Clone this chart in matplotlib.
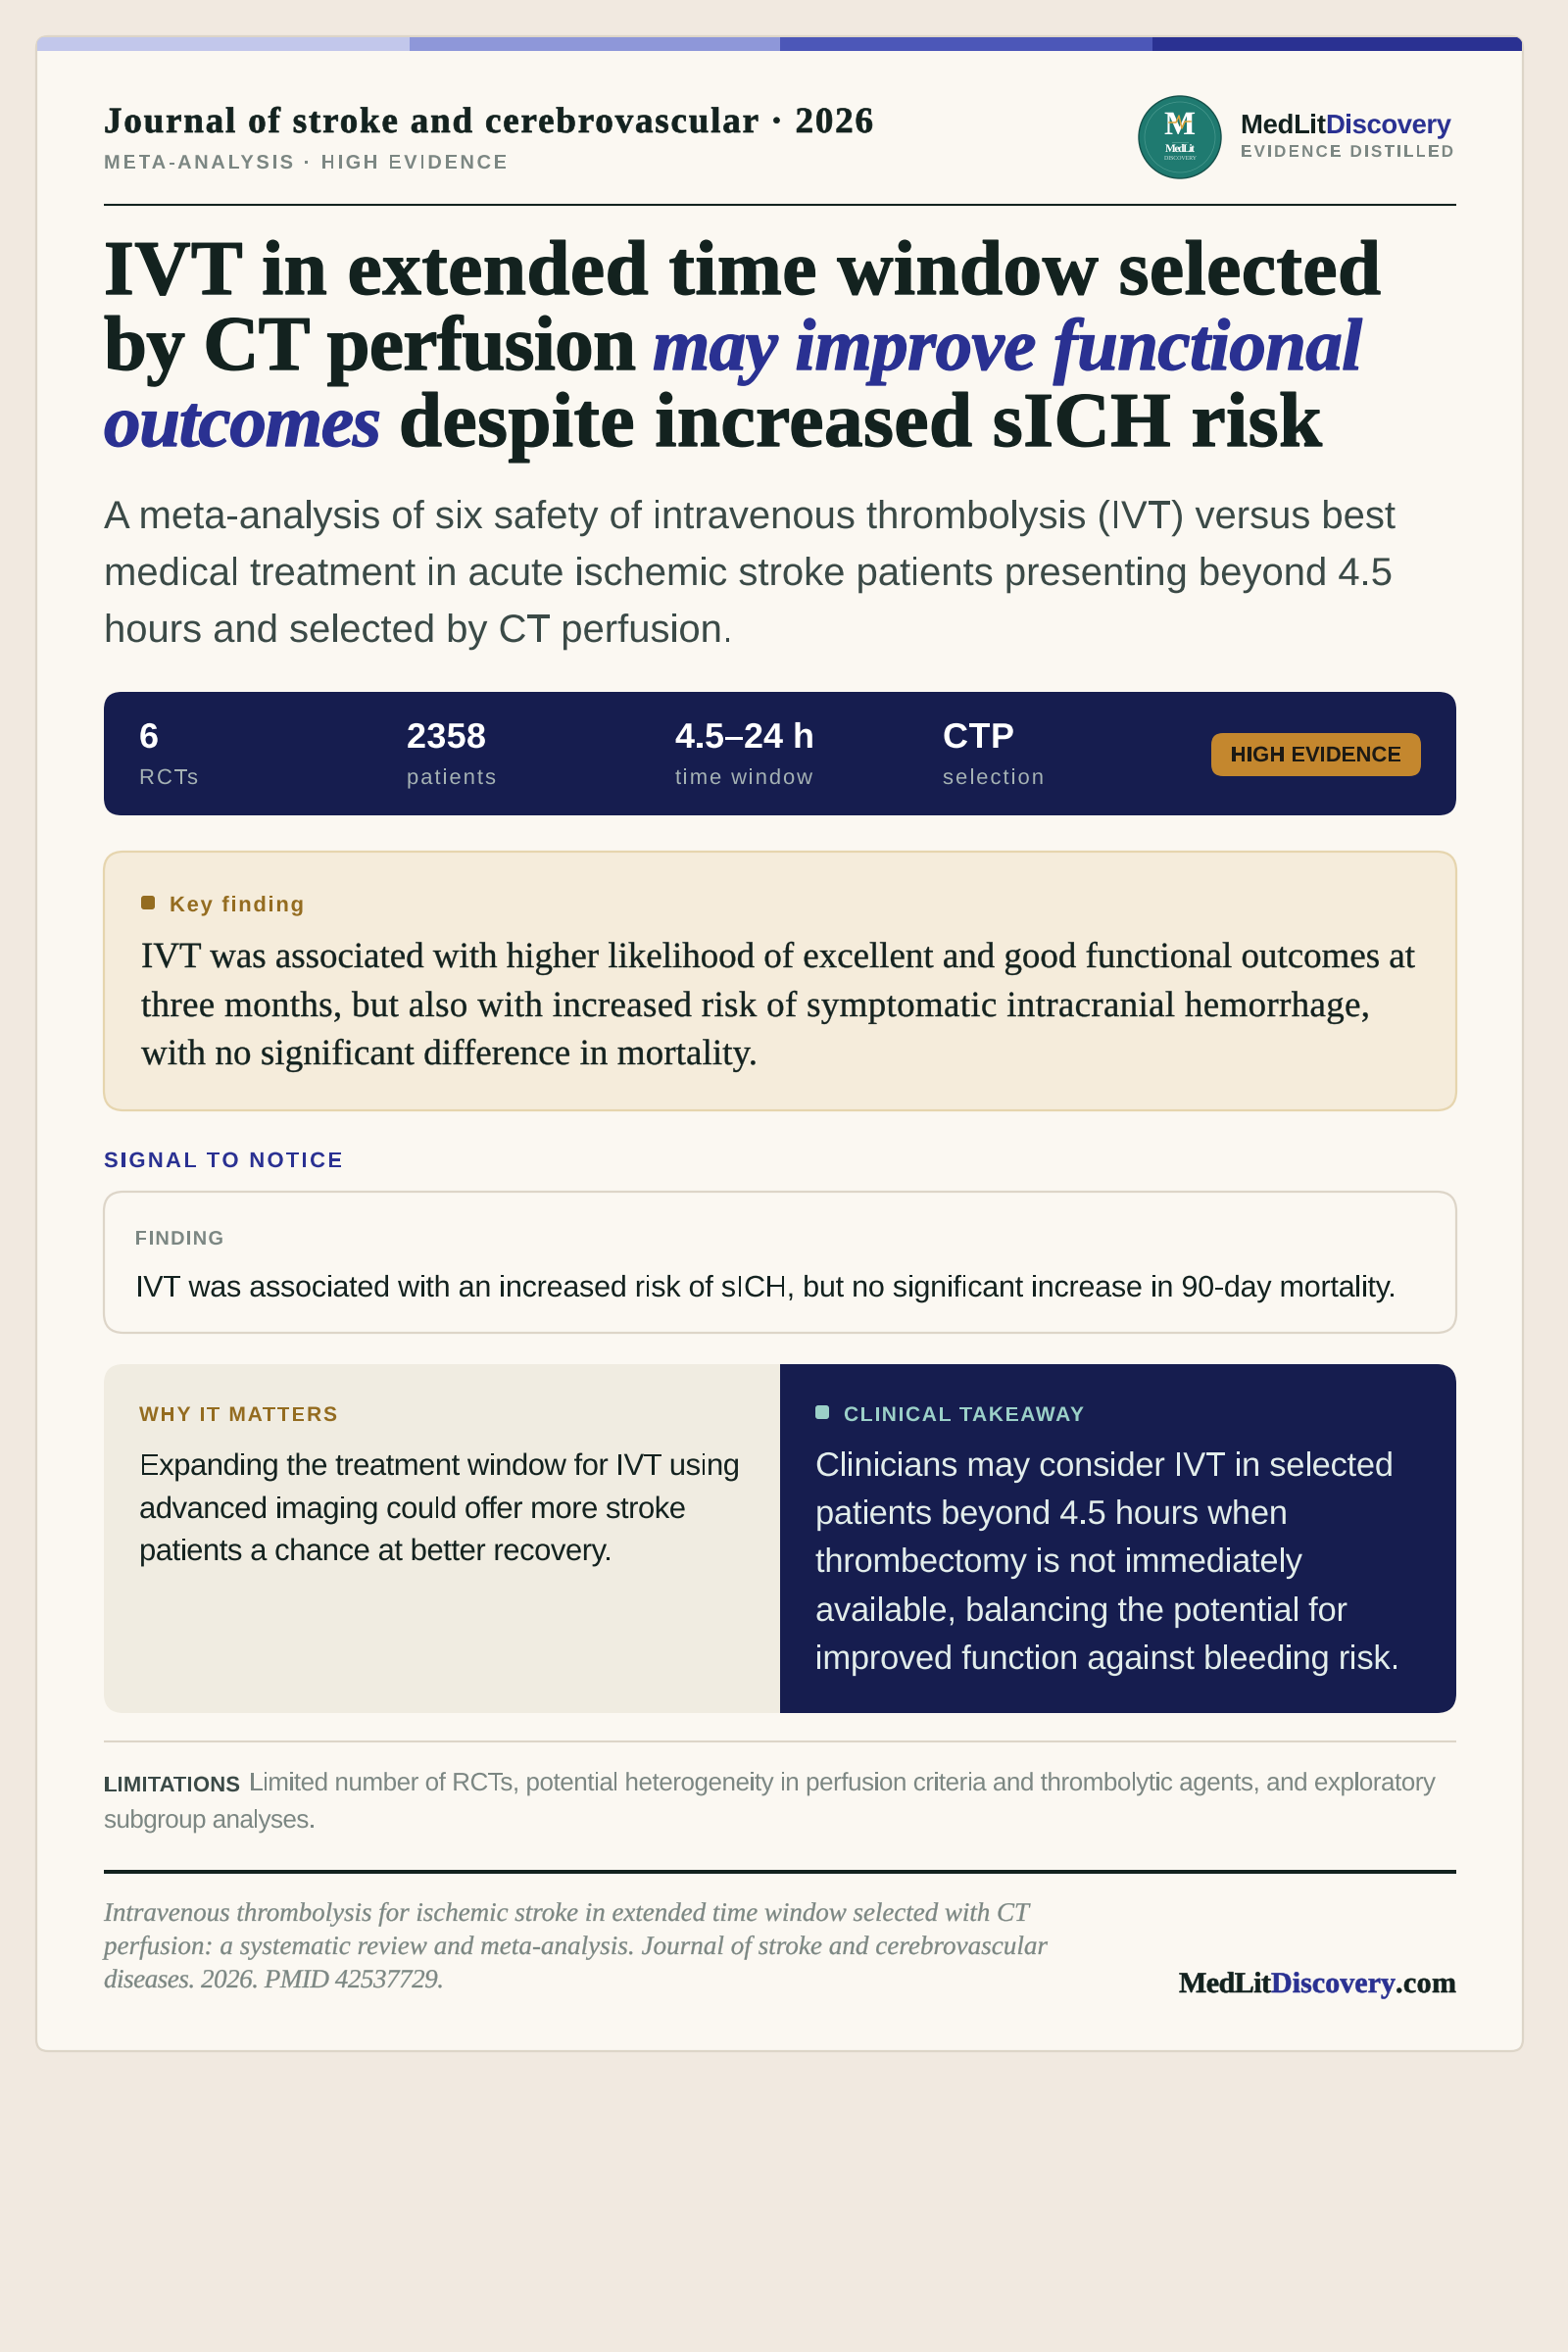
import matplotlib
matplotlib.use("Agg")
import matplotlib.pyplot as plt
from matplotlib import _text_helpers
from matplotlib.colors import to_rgba
from matplotlib.ft2font import LoadFlags
from matplotlib.patches import Circle, FancyBboxPatch, Rectangle
from matplotlib.path import Path
from matplotlib.text import Text
from matplotlib.textpath import TextToPath
from matplotlib.transforms import Affine2D

# ---- content ----
journal_line = "Journal of stroke and cerebrovascular · 2026"
kicker = "META-ANALYSIS · HIGH EVIDENCE"
brand_dark = "MedLit"
brand_blue = "Discovery"
brand_tag = "EVIDENCE DISTILLED"
title_parts = ["IVT in extended time window selected", "by CT perfusion", "may improve functional",
               "outcomes", "despite increased sICH risk"]
intro_lines = ["A meta-analysis of six safety of intravenous thrombolysis (IVT) versus best",
               "medical treatment in acute ischemic stroke patients presenting beyond 4.5",
               "hours and selected by CT perfusion."]
stat_values = ["6", "2358", "4.5–24 h", "CTP"]
stat_labels = ["RCTs", "patients", "time window", "selection"]
badge_text = "HIGH EVIDENCE"
key_label = "Key finding"
key_lines = ["IVT was associated with higher likelihood of excellent and good functional outcomes at",
             "three months, but also with increased risk of symptomatic intracranial hemorrhage,",
             "with no significant difference in mortality."]
signal_label = "SIGNAL TO NOTICE"
finding_label = "FINDING"
finding_text = "IVT was associated with an increased risk of sICH, but no significant increase in 90-day mortality."
why_label = "WHY IT MATTERS"
why_lines = ["Expanding the treatment window for IVT using",
             "advanced imaging could offer more stroke",
             "patients a chance at better recovery."]
take_label = "CLINICAL TAKEAWAY"
take_lines = ["Clinicians may consider IVT in selected",
              "patients beyond 4.5 hours when",
              "thrombectomy is not immediately",
              "available, balancing the potential for",
              "improved function against bleeding risk."]
lim_label = "LIMITATIONS"
lim_lines = ["Limited number of RCTs, potential heterogeneity in perfusion criteria and thrombolytic agents, and exploratory",
             "subgroup analyses."]
cite_lines = ["Intravenous thrombolysis for ischemic stroke in extended time window selected with CT",
              "perfusion: a systematic review and meta-analysis. Journal of stroke and cerebrovascular",
              "diseases. 2026. PMID 42537729."]
site_parts = ["MedLit", "Discovery", ".com"]

# ---- palette ----
PAGE, CARD, EDGE = "#F1E9E0", "#FBF8F2", "#DDD5C8"
INK, SLATE, GREY = "#13221F", "#3B4A47", "#7C8783"
BLUE, NAVY, GOLD = "#2A3192", "#161D4F", "#946C20"
STRIPES = ["#C2C7EB", "#8E97D9", "#4C57B8", "#2A3192"]

SANS, SERIF = "Liberation Sans", "Liberation Serif"
DPI = 100
plt.rcParams["text.hinting"] = "no_hinting"

t2p = TextToPath()


class FitText(Text):
    """One real text string, set with the letter spacing that makes it end at x_end."""

    def __init__(self, x, y, s, x_end, embolden=0.0, **kw):
        super().__init__(x, y, s, va="baseline", ha="left", **kw)
        self.x_end = x_end
        self.embolden = embolden

    def draw(self, renderer):
        fp = self.get_fontproperties()
        s = self.get_text()
        scale = fp.get_size_in_points() * DPI / 72 / t2p.FONT_SCALE
        font = t2p._get_font(fp)
        pos = [item.x * scale for item in _text_helpers.layout(s, font)]
        last = font.load_char(ord(s[-1]), flags=LoadFlags.NO_HINTING)
        total = pos[-1] + last.linearHoriAdvance / 65536 * scale
        x0, y0 = self.get_transform().transform(self.get_position())
        x1, _ = self.get_transform().transform((self.x_end, self.get_position()[1]))
        gap = (x1 - x0 - total) / max(len(s) - 1, 1)
        gc = renderer.new_gc()
        rgba = to_rgba(self.get_color())
        gc.set_foreground(rgba)
        gc.set_linewidth(self.embolden)
        for i, ch in enumerate(s):
            if ch != " ":
                verts, codes = t2p.get_text_path(fp, ch)
                tr = Affine2D().scale(scale).translate(x0 + pos[i] + i * gap, y0)
                renderer.draw_path(gc, Path(verts, codes), tr, rgbFace=rgba)
        gc.restore()


fig = plt.figure(figsize=(16, 24), dpi=DPI, facecolor=PAGE)
ax = fig.add_axes([0, 0, 1, 1])
ax.set_xlim(0, 1600)
ax.set_ylim(2400, 0)
ax.axis("off")


def txt(x, y, s, x_end, px, color, family=SANS, weight="normal", style="normal", embolden=0.0):
    t = FitText(x, y, s, x_end, embolden=embolden, color=color, family=family, fontsize=px * 0.72,
                weight=weight, style=style, zorder=5)
    ax.add_artist(t)
    return t


def rbox(x0, y0, x1, y1, r, fc, ec="none", lw=0, z=1):
    p = FancyBboxPatch((x0, y0), x1 - x0, y1 - y0, boxstyle=f"round,pad=0,rounding_size={r}",
                       fc=fc, ec=ec, lw=lw, zorder=z)
    ax.add_patch(p)
    return p


# card and stripes
card = rbox(37, 37, 1554, 2093, 12, CARD, EDGE, 1.6)
for i, c in enumerate(STRIPES):
    edges = [38, 418, 796, 1176, 1553]
    st = Rectangle((edges[i], 38), edges[i + 1] - edges[i], 14, fc=c, ec="none", zorder=2)
    ax.add_patch(st)
    st.set_clip_path(card)

# header
txt(106, 135, journal_line, 891, 37, INK, SERIF, "bold", embolden=0.5)
txt(106, 172, kicker, 517, 20, GREY, SANS, "bold")
ax.plot([106, 1486], [209, 209], color=INK, lw=1.5, solid_capstyle="butt", zorder=2)

# logo
ax.add_patch(Circle((1204, 140), 42, fc="#1F7A70", ec="#14504A", lw=1.0, zorder=2))
ax.add_patch(Circle((1204, 140), 36, fc="none", ec="#4A9A8F", lw=0.5, zorder=3))
txt(1188, 137, "M", 1221, 34, "#FFFFFF", SERIF, "bold")
ax.plot([1193, 1200, 1203, 1206, 1209, 1215], [125, 125, 118, 131, 124, 124], color="#E0A63C", lw=1.1, zorder=6)
ax.plot([1196, 1212], [145, 145], color="#4A9A8F", lw=0.8, zorder=3)
txt(1189, 155, "MedLit", 1219, 11.5, "#FFFFFF", SERIF, "bold")
txt(1188, 163, "DISCOVERY", 1221, 6, "#D5E6E3", SERIF)
txt(1266, 136, brand_dark, 1353, 27.5, INK, SANS, "bold")
txt(1353, 136, brand_blue, 1481, 27.5, BLUE, SANS, "bold")
txt(1266, 160, brand_tag, 1483, 17, GREY, SANS, "bold")

# title
TS, TI = 79, 75
txt(106, 300, title_parts[0], 1409, TS, INK, SERIF, "bold", embolden=1.0)
txt(106, 377, title_parts[1], 649, TS, INK, SERIF, "bold", embolden=1.0)
txt(666, 377, title_parts[2], 1390, TI, BLUE, SERIF, "bold", "italic", embolden=1.0)
txt(106, 455, title_parts[3], 389, TI, BLUE, SERIF, "bold", "italic", embolden=1.0)
txt(407, 455, title_parts[4], 1349, TS, INK, SERIF, "bold", embolden=1.0)

# intro
for s, y, xe in zip(intro_lines, [539, 597, 655], [1424, 1421, 748]):
    txt(106, y, s, xe, 40, SLATE)

# stats band
rbox(106, 706, 1486, 832, 18, NAVY)
for x, v, l, xe, xl in zip([142, 415, 689, 962], stat_values, stat_labels,
                           [161, 496, 831, 1035], [202, 506, 829, 1065]):
    txt(x, 763, v, xe, 36, "#FFFFFF", SANS, "bold")
    txt(x, 800, l, xl, 22, "#A5B2B4")
rbox(1236, 748, 1450, 792, 12, "#C4872E", z=2)
txt(1256, 777, badge_text, 1430, 22, "#1D1A14", SANS, "bold")

# key finding
rbox(106, 869, 1486, 1133, 20, "#F5ECDB", "#E6D5AE", 1.6)
rbox(144, 914, 158, 928, 3, GOLD, z=2)
txt(173, 930, key_label, 310, 22, GOLD, SANS, "bold")
for s, y, xe in zip(key_lines, [987, 1037, 1086], [1444, 1398, 773]):
    txt(144, y, s, xe, 37, INK, SERIF, embolden=0.25)

# signal
txt(106, 1191, signal_label, 349, 22, BLUE, SANS, "bold")
rbox(106, 1216, 1486, 1360, 20, CARD, EDGE, 1.6)
txt(138, 1270, finding_label, 228, 20, GREY, SANS, "bold")
txt(138, 1323, finding_text, 1425, 30.5, INK)

# two panels
panel = rbox(106, 1392, 1486, 1748, 20, "#F0ECE1")
right = Rectangle((796, 1392), 690, 356, fc=NAVY, ec="none", zorder=2)
ax.add_patch(right)
right.set_clip_path(panel)
txt(142, 1450, why_label, 344, 21, GOLD, SANS, "bold")
for s, y, xe in zip(why_lines, [1505, 1549, 1592], [755, 700, 625]):
    txt(142, y, s, xe, 31, INK)
rbox(832, 1434, 846, 1448, 3, "#9BD0C8", z=3)
txt(861, 1450, take_label, 1106, 21, "#9BD0C8", SANS, "bold")
for s, y, xe in zip(take_lines, [1506, 1555, 1604, 1654, 1703], [1422, 1314, 1329, 1375, 1428]):
    txt(832, y, s, xe, 34.5, "#E2EDEB")

# limitations
ax.plot([106, 1486], [1777, 1777], color=EDGE, lw=1.5, solid_capstyle="butt", zorder=2)
txt(106, 1828, lim_label, 245, 22, SLATE, SANS, "bold")
txt(254, 1827, lim_lines[0], 1465, 26, GREY)
txt(106, 1865, lim_lines[1], 322, 26, GREY)

# citation and site
ax.add_patch(Rectangle((106, 1908), 1380, 4, fc=INK, ec="none", zorder=2))
for s, y, xe in zip(cite_lines, [1960, 1994, 2028], [1050, 1069, 453]):
    txt(106, y, s, xe, 27, GREY, SERIF, "normal", "italic", embolden=0.2)
for s, x, xe, c in zip(site_parts, [1203, 1297, 1424], [1297, 1424, 1486], [INK, BLUE, INK]):
    txt(x, 2033, s, xe, 30, c, SERIF, "bold", embolden=0.4)

fig.savefig("out.png", dpi=DPI, facecolor=PAGE)
